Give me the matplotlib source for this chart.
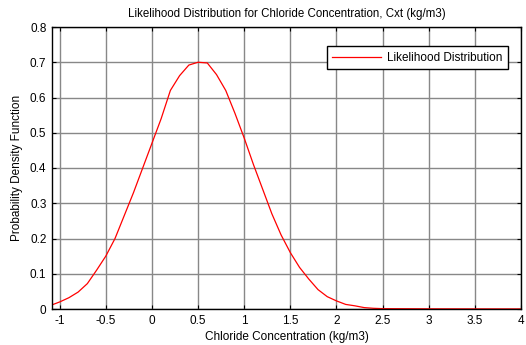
import matplotlib
matplotlib.use('Agg')
import matplotlib.pyplot as plt

# Likelihood curve (x in kg/m3, y = pdf)
conc = [-1.08, -1.0, -0.9, -0.8, -0.7, -0.6, -0.5, -0.4, -0.3, -0.2, -0.1,
        0.0, 0.1, 0.2, 0.3, 0.4, 0.5, 0.6, 0.7, 0.8, 0.9, 1.0,
        1.1, 1.2, 1.3, 1.4, 1.5, 1.6, 1.7, 1.8, 1.9, 2.0,
        2.1, 2.2, 2.3, 2.4, 2.5, 3.0, 3.5, 4.0]
pdf = [0.012, 0.020, 0.032, 0.048, 0.072, 0.110, 0.150, 0.200, 0.265, 0.330, 0.400,
       0.470, 0.540, 0.620, 0.662, 0.692, 0.700, 0.698, 0.665, 0.620, 0.555, 0.485,
       0.410, 0.340, 0.270, 0.210, 0.160, 0.118, 0.085, 0.055, 0.035, 0.023,
       0.013, 0.009, 0.004, 0.002, 0.001, 0.0005, 0.0003, 0.0002]

xticks = [-1, -0.5, 0, 0.5, 1, 1.5, 2, 2.5, 3, 3.5, 4]
xticklabels = ['-1', '-0.5', '0', '0.5', '1', '1.5', '2', '2.5', '3', '3.5', '4']
yticks = [0, 0.1, 0.2, 0.3, 0.4, 0.5, 0.6, 0.7, 0.8]
yticklabels = ['0', '0.1', '0.2', '0.3', '0.4', '0.5', '0.6', '0.7', '0.8']

plt.rcParams['font.family'] = ['Liberation Sans', 'DejaVu Sans']
plt.rcParams['font.size'] = 8.5

fig = plt.figure(figsize=(5.26, 3.45), dpi=100)
ax = fig.add_axes([52 / 526, 1 - 309 / 345, (521 - 52) / 526, (309 - 27) / 345])

ax.plot(conc, pdf, color='red', lw=0.9, label='Likelihood Distribution')

ax.set_xlim(-1.083, 4.0)
ax.set_ylim(0, 0.8)
ax.set_xticks(xticks)
ax.set_xticklabels(xticklabels)
ax.set_yticks(yticks)
ax.set_yticklabels(yticklabels)
ax.tick_params(direction='in', top=True, right=True, length=3, width=0.8, pad=4)
ax.grid(True, color='#888888', lw=1.0)
for sp in ax.spines.values():
    sp.set_linewidth(1.0)

ax.set_title('Likelihood Distribution for Chloride Concentration, Cxt (kg/m3)',
             fontsize=8.3, pad=7)
ax.set_xlabel('Chloride Concentration (kg/m3)', labelpad=3)
ax.set_ylabel('Probability Density Function', labelpad=5)

leg = ax.legend(loc='upper right', bbox_to_anchor=(0.985, 0.952), fancybox=False,
                framealpha=1, edgecolor='black', handlelength=4.2, borderpad=0.45,
                handletextpad=0.5)
leg.get_frame().set_linewidth(1.0)

plt.savefig('out.png', dpi=100)
